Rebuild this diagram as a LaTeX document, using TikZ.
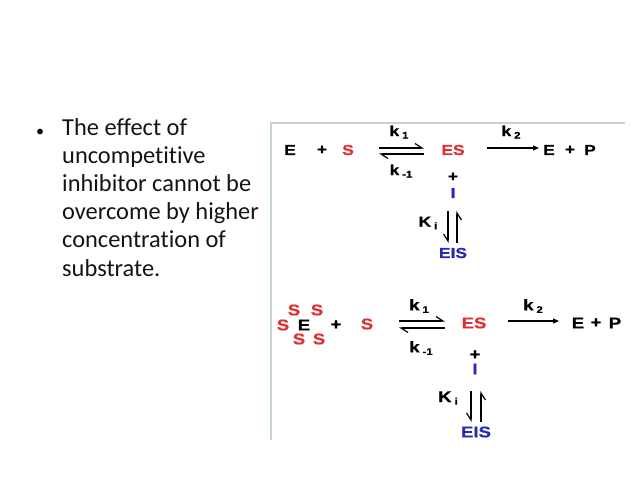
\documentclass[tikz,border=0pt]{standalone}
\usepackage{fontspec}
\setmainfont{Carlito}[Ligatures=NoCommon]
\newfontfamily\dfont{Liberation Sans}[FakeStretch=1.2, BoldFeatures={FakeBold=0.8}]
\usetikzlibrary{arrows.meta}
\definecolor{sred}{RGB}{222,48,48}
\definecolor{sblue}{RGB}{40,40,180}
\definecolor{frame}{RGB}{196,212,216}
\tikzset{
  chem/.style={inner sep=0pt, font=\dfont\bfseries\fontsize{14.5}{14.5}\selectfont},
  chemb/.style={inner sep=0pt, font=\dfont\bfseries\fontsize{15.5}{15.5}\selectfont},
  red/.style={chem, text=sred},
  blue/.style={chem, text=sblue},
  redb/.style={chemb, text=sred},
  blueb/.style={chemb, text=sblue},
  harp/.style={line width=1.3pt, -{Straight Barb[harpoon, length=7pt, width=9pt, line width=1.2pt]}},
  harpsw/.style={line width=1.3pt, -{Straight Barb[harpoon, swap, length=7pt, width=9pt, line width=1.2pt]}},
  fwd/.style={line width=1.2pt, -{Triangle[length=6pt, width=5pt]}},
  framel/.style={draw=frame, line width=1.8pt}
}
\newcommand{\kk}[2]{#1\hspace{3pt}\raisebox{-2.5pt}{\fontsize{9.5}{9.5}\selectfont #2}}
\begin{document}
\begin{tikzpicture}[x=1pt, y=-1pt]
\useasboundingbox (0,0) rectangle (638,479);
% frame
\coordinate (f0) at (271,440);
\coordinate (f1) at (271,123);
\coordinate (f2) at (625,123);
\draw[framel] (f0) -- (f1) -- (f2);
% text
\node[anchor=center, font=\fontsize{16}{16}\selectfont] (bul) at (40,133) {•};
\node[anchor=north west, inner sep=0pt, align=left, text=black!92,
      font=\fontsize{24.4}{28.2}\selectfont] (txt) at (62,118)
  {The effect of\\uncompetitive\\inhibitor cannot be\\overcome by higher\\concentration of\\substrate.};
% ---- top scheme
\node[chem] (E1) at (290,150) {E};
\node[chem] (p1) at (322,150) {+};
\node[red] (S1) at (348,150) {S};
\node[chem] (k1a) at (399,132) {\kk{k}{1}};
\node[chem] (km1a) at (401,171) {\kk{k}{-1}};
\node[red] (ES1) at (453,150) {ES};
\node[chem] (k2a) at (511,132) {\kk{k}{2}};
\node[chem] (E1b) at (549,150) {E};
\node[chem] (p1b) at (570,150) {+};
\node[chem] (P1) at (590,150) {P};
\node[chem] (pI1) at (453,177) {+};
\node[blue] (I1) at (453,193) {I};
\node[chem] (Ki1) at (428,223) {\kk{K}{i}};
\node[blue] (EIS1) at (453,253) {EIS};
\coordinate (a1s) at (379,148);
\coordinate (a1e) at (424,148);
\coordinate (b1s) at (424,154);
\coordinate (b1e) at (379,154);
\draw[harp] (a1s) -- (a1e);
\draw[harp] (b1s) -- (b1e);
\coordinate (c1s) at (487,148);
\coordinate (c1e) at (539,148);
\draw[fwd] (c1s) -- (c1e);
\coordinate (d1s) at (448,211);
\coordinate (d1e) at (448,243);
\coordinate (u1s) at (457,243);
\coordinate (u1e) at (457,211);
\draw[harpsw] (d1s) -- (d1e);
\draw[harpsw] (u1s) -- (u1e);
% ---- bottom scheme
\node[redb] (Sa) at (294,310) {S};
\node[redb] (Sb) at (317,310) {S};
\node[redb] (Sc) at (283,325) {S};
\node[chemb] (E2) at (304,325) {E};
\node[redb] (Sd) at (299,339) {S};
\node[redb] (Se) at (319,339) {S};
\node[chemb] (p2) at (336,325) {+};
\node[redb] (S2) at (367,324) {S};
\node[chemb] (k1b) at (419,306) {\kk{k}{1}};
\node[chemb] (km1b) at (421,348) {\kk{k}{-1}};
\node[redb] (ES2) at (474,323) {ES};
\node[chemb] (k2b) at (533,306) {\kk{k}{2}};
\node[chemb] (E2b) at (578,323) {E};
\node[chemb] (p2b) at (596,323) {+};
\node[chemb] (P2) at (615,323) {P};
\node[chemb] (pI2) at (475,355) {+};
\node[blueb] (I2) at (475,369) {I};
\node[chemb] (Ki2) at (448,398) {\kk{K}{i}};
\node[blueb] (EIS2) at (476,432) {EIS};
\coordinate (a2s) at (399,321);
\coordinate (a2e) at (445,321);
\coordinate (b2s) at (445,328);
\coordinate (b2e) at (399,328);
\draw[harp] (a2s) -- (a2e);
\draw[harp] (b2s) -- (b2e);
\coordinate (c2s) at (508,321);
\coordinate (c2e) at (559,321);
\draw[fwd] (c2s) -- (c2e);
\coordinate (d2s) at (471,391);
\coordinate (d2e) at (471,422);
\coordinate (u2s) at (481,422);
\coordinate (u2e) at (481,391);
\draw[harpsw] (d2s) -- (d2e);
\draw[harpsw] (u2s) -- (u2e);
\end{tikzpicture}
\end{document}
